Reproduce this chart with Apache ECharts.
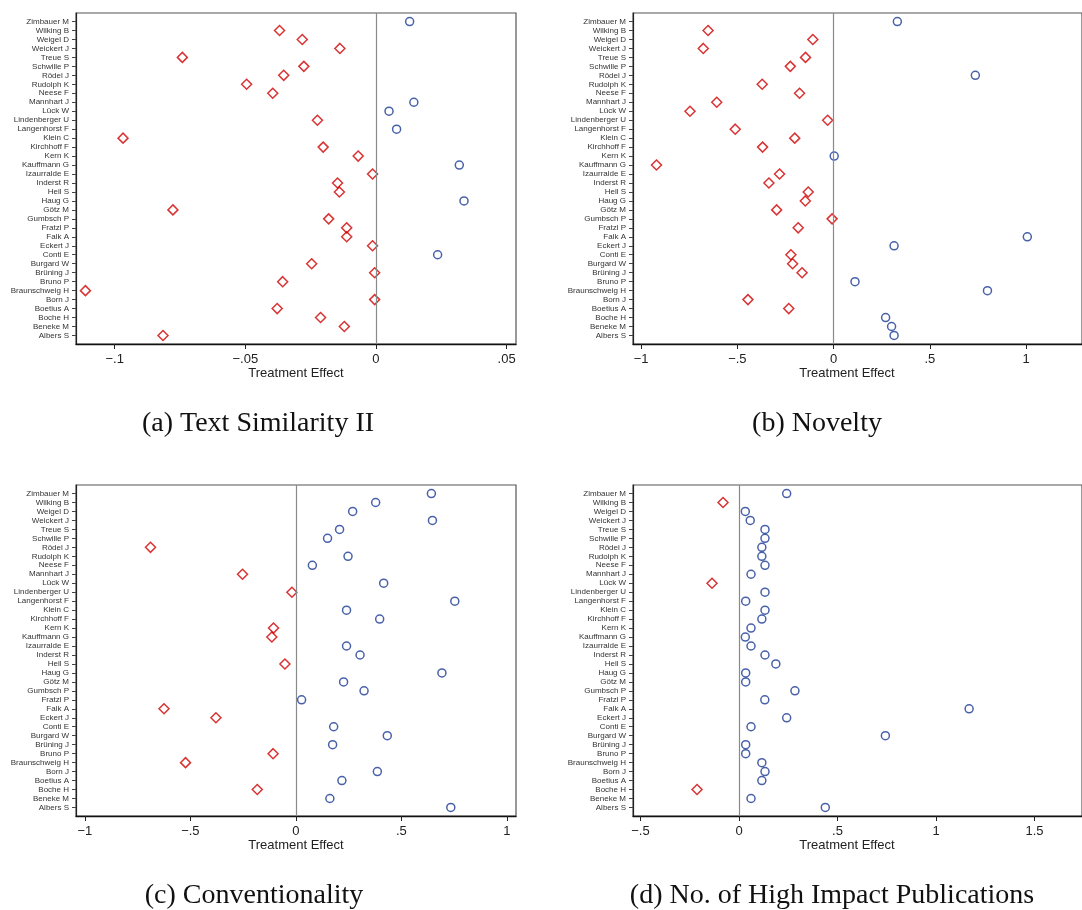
<!DOCTYPE html>
<html>
<head>
<meta charset="utf-8">
<title>Treatment effects</title>
<script src="https://cdn.jsdelivr.net/npm/echarts@6/dist/echarts.min.js"></script>
<style>
  html, body { margin: 0; padding: 0; background: #fff; }
  #chart { width: 1082px; height: 910px; }
</style>
</head>
<body>
<div id="chart"></div>
<script>
// names, top to bottom
const names = [
  'Zimbauer M', 'Wilking B', 'Weigel D', 'Weickert J', 'Treue S', 'Schwille P',
  'Rödel J', 'Rudolph K', 'Neese F', 'Mannhart J', 'Lück W', 'Lindenberger U',
  'Langenhorst F', 'Klein C', 'Kirchhoff F', 'Kern K', 'Kauffmann G', 'Izaurralde E',
  'Inderst R', 'Hell S', 'Haug G', 'Götz M', 'Gumbsch P', 'Fratzl P',
  'Falk A', 'Eckert J', 'Conti E', 'Burgard W', 'Brüning J', 'Bruno P',
  'Braunschweig H', 'Born J', 'Boetius A', 'Boche H', 'Beneke M', 'Albers S'
];

// (a) Text Similarity II
const textSimilarity = [
  0.0129, -0.0369, -0.0282, -0.0138, -0.0741, -0.0276,
  -0.0353, -0.0495, -0.0395, 0.0145, 0.0050, -0.0224,
  0.0079, -0.0968, -0.0202, -0.0068, 0.0319, -0.0013,
  -0.0147, -0.0140, 0.0337, -0.0777, -0.0181, -0.0112,
  -0.0112, -0.0013, 0.0236, -0.0246, -0.0005, -0.0357,
  -0.1112, -0.0005, -0.0378, -0.0212, -0.0121, -0.0815
];

// (b) Novelty
const novelty = [
  0.331, -0.652, -0.108, -0.677, -0.146, -0.225,
  0.736, -0.371, -0.177, -0.607, -0.746, -0.031,
  -0.511, -0.202, -0.369, 0.003, -0.920, -0.281,
  -0.336, -0.132, -0.147, -0.296, -0.008, -0.184,
  1.006, 0.314, -0.222, -0.213, -0.164, 0.111,
  0.799, -0.445, -0.233, 0.270, 0.301, 0.314
];

// (c) Conventionality
const conventionality = [
  0.642, 0.378, 0.269, 0.647, 0.207, 0.150,
  -0.689, 0.247, 0.078, -0.253, 0.416, -0.019,
  0.753, 0.240, 0.397, -0.106, -0.114, 0.240,
  0.304, -0.052, 0.692, 0.226, 0.323, 0.027,
  -0.625, -0.379, 0.179, 0.433, 0.174, -0.108,
  -0.523, 0.386, 0.218, -0.183, 0.161, 0.734
];

// (d) No. of High Impact Publications
const highImpact = [
  0.242, -0.081, 0.032, 0.057, 0.132, 0.132,
  0.116, 0.116, 0.132, 0.061, -0.137, 0.132,
  0.034, 0.132, 0.116, 0.061, 0.032, 0.061,
  0.132, 0.187, 0.034, 0.034, 0.284, 0.131,
  1.168, 0.242, 0.061, 0.743, 0.034, 0.034,
  0.116, 0.132, 0.116, -0.213, 0.061, 0.438
];

// x axis ticks and their labels
const ticksA = [-0.1, -0.05, 0, 0.05];
const tickLabelsA = ['\u2212.1', '\u2212.05', '0', '.05'];
const ticksB = [-1, -0.5, 0, 0.5, 1];
const tickLabelsB = ['\u22121', '\u2212.5', '0', '.5', '1'];
const ticksC = [-1, -0.5, 0, 0.5, 1];
const tickLabelsC = ['\u22121', '\u2212.5', '0', '.5', '1'];
const ticksD = [-0.5, 0, 0.5, 1, 1.5];
const tickLabelsD = ['\u2212.5', '0', '.5', '1', '1.5'];

const captions = [
  '(a) Text Similarity II', '(b) Novelty',
  '(c) Conventionality', '(d) No. of High Impact Publications'
];

const BLUE = '#1a3a94';
const RED = '#d00000';
const SANS = '"Liberation Sans", Arial, sans-serif';
const SERIF = '"Liberation Serif", "DejaVu Serif", serif';
const rowIdx = names.map((n, i) => i + 1);

const chart = echarts.init(document.getElementById('chart'), null, { renderer: 'canvas' });

// panel layout: plot rect, x range, where the texts go
const panels = [
  { vals: textSimilarity, ticks: ticksA, labels: tickLabelsA, left: 76, top: 13, width: 440, min: -0.1148, max: 0.0536, titleX: 296, capX: 258 },
  { vals: novelty, ticks: ticksB, labels: tickLabelsB, left: 633, top: 13, width: 470, min: -1.042, max: 1.29, titleX: 847, capX: 817 },
  { vals: conventionality, ticks: ticksC, labels: tickLabelsC, left: 76, top: 485, width: 440, min: -1.042, max: 1.043, titleX: 296, capX: 254 },
  { vals: highImpact, ticks: ticksD, labels: tickLabelsD, left: 633, top: 485, width: 470, min: -0.538, max: 1.741, titleX: 847, capX: 832 }
];
const plotH = 331;

const grid = [], xAxis = [], yAxis = [], series = [], graphic = [];

panels.forEach((p, k) => {
  grid.push({
    left: p.left, top: p.top, width: p.width, height: plotH,
    show: true, borderColor: '#555', borderWidth: 1.2, backgroundColor: '#fff'
  });
  xAxis.push({
    type: 'value', gridIndex: k, min: p.min, max: p.max,
    axisLine: { show: true, onZero: false, lineStyle: { color: '#111', width: 1.3 } },
    splitLine: { show: false },
    axisTick: { show: true, customValues: p.ticks, length: 5, lineStyle: { color: '#222' } },
    axisLabel: {
      customValues: p.ticks, margin: 9, fontFamily: SANS, fontSize: 13, color: '#222',
      formatter: v => p.labels[p.ticks.findIndex(t => Math.abs(t - v) < 1e-9)]
    }
  });
  yAxis.push({
    type: 'value', gridIndex: k, inverse: true, min: 0.05, max: 36.95,
    axisLine: { show: true, onZero: false, lineStyle: { color: '#222', width: 1.2 } },
    splitLine: { show: false },
    axisTick: { show: true, customValues: rowIdx, length: 4, lineStyle: { color: '#444' } },
    axisLabel: {
      customValues: rowIdx, margin: 7, fontFamily: SANS, fontSize: 8, color: '#333',
      formatter: v => names[Math.round(v) - 1]
    }
  });

  const pos = [], neg = [];
  p.vals.forEach((v, i) => (v >= 0 ? pos : neg).push([v, i + 1]));

  series.push({
    type: 'scatter', xAxisIndex: k, yAxisIndex: k, data: pos,
    symbol: 'circle', symbolSize: 8,
    itemStyle: { color: 'rgba(0,0,0,0)', borderColor: BLUE, borderWidth: 1.5 },
    markLine: {
      silent: true, symbol: 'none', label: { show: false },
      lineStyle: { color: '#8a8a8a', type: 'solid', width: 1.2 },
      data: [{ xAxis: 0 }]
    },
    z: 3
  });
  series.push({
    type: 'scatter', xAxisIndex: k, yAxisIndex: k, data: neg,
    symbol: 'diamond', symbolSize: 10,
    itemStyle: { color: 'rgba(0,0,0,0)', borderColor: RED, borderWidth: 1.5 },
    z: 3
  });

  // x axis title
  graphic.push({
    type: 'text', x: p.titleX, y: p.top + plotH + 29,
    style: { text: 'Treatment Effect', fontFamily: SANS, fontSize: 13, fill: '#222', align: 'center', verticalAlign: 'middle' }
  });
  // subfigure caption
  graphic.push({
    type: 'text', x: p.capX, y: p.top + plotH + 80,
    style: { text: captions[k], fontFamily: SERIF, fontSize: 28, fill: '#111', align: 'center', verticalAlign: 'middle' }
  });
});

chart.setOption({
  backgroundColor: '#fff',
  animation: false,
  grid: grid,
  xAxis: xAxis,
  yAxis: yAxis,
  series: series,
  graphic: graphic
});
</script>
</body>
</html>
